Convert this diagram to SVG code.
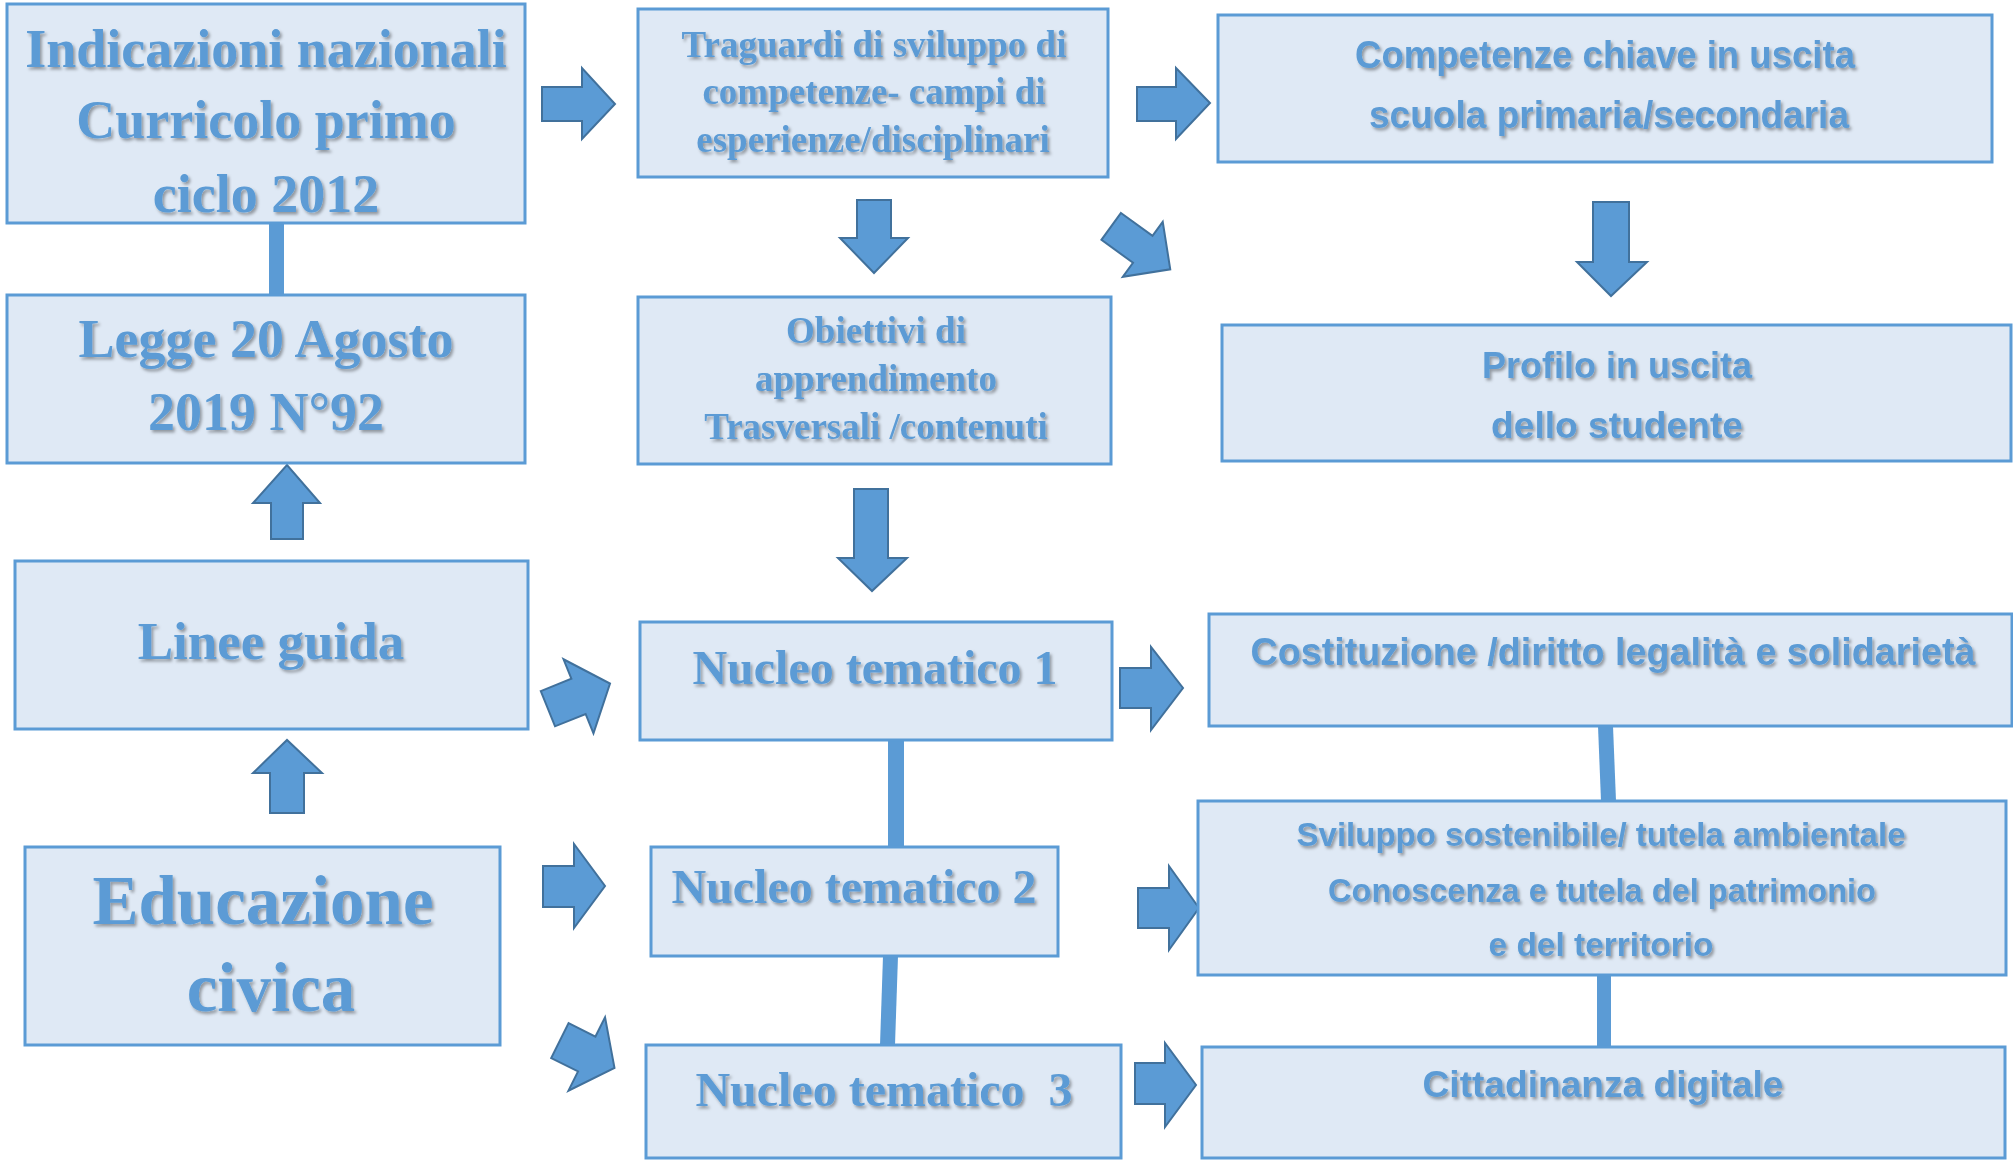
<svg xmlns="http://www.w3.org/2000/svg" width="2013" height="1160" viewBox="0 0 2013 1160">
<defs>
<filter id="ts" x="-5%" y="-30%" width="110%" height="160%">
<feDropShadow dx="2" dy="2.5" stdDeviation="1.4" flood-color="#000" flood-opacity="0.35"/>
</filter>
<polygon id="diag" points="0,-18 0,18 0,18"/>
</defs>
<style>
.box{fill:#dfe9f5;stroke:#5b9bd5;stroke-width:3}
.serif{font-family:"Liberation Serif","Times New Roman",serif;font-weight:bold;fill:#5b9bd5;text-anchor:middle;filter:url(#ts)}
.sans{font-family:"Liberation Sans",Arial,sans-serif;font-weight:bold;fill:#5b9bd5;text-anchor:middle;filter:url(#ts)}
.arr{fill:#5b9bd5;stroke:#41719c;stroke-width:2;stroke-linejoin:miter}
.bar{fill:#5b9bd5}
</style>
<rect width="2013" height="1160" fill="#ffffff"/>

<g id="connectors">
<rect class="bar" x="269" y="223" width="15" height="72"/>
<rect class="bar" x="888" y="740" width="16" height="107"/>
<polygon class="bar" points="883,956 898,956 895,1045 880,1045"/>
<polygon class="bar" points="1598,726 1613,726 1616,801 1601,801"/>
<rect class="bar" x="1597" y="975" width="14" height="72"/>

<polygon class="arr" points="542,87 582,87 582,68 615,104 582,139 582,121 542,121"/>
<polygon class="arr" points="1137,87 1176,87 1176,68 1210,103 1176,139 1176,121 1137,121"/>
<polygon class="arr" points="857,200 891,200 891,238 908,238 874,273 840,238 857,238"/>
<polygon class="arr" transform="translate(1111.2,226.4) rotate(36)" points="0,-16.6 39,-16.6 39,-34 73,0 39,34 39,16.6 0,16.6"/>
<polygon class="arr" points="1593,202 1629,202 1629,262 1647,262 1611,296 1577,262 1593,262"/>
<polygon class="arr" points="854,489 888,489 888,558 907,558 872,591 838,558 854,558"/>
<polygon class="arr" points="271,539 303,539 303,503 320,503 287,465 253,503 271,503"/>
<polygon class="arr" points="270,813 304,813 304,773 322,773 287,740 253,773 270,773"/>
<polygon class="arr" transform="translate(547.9,708.7) rotate(-22)" points="0,-19 33,-19 33,-40 67,0 33,40 33,19 0,19"/>
<polygon class="arr" points="543,866 574,866 574,844 605,886 574,928 574,907 543,907"/>
<polygon class="arr" transform="translate(559.9,1040.6) rotate(26.5)" points="0,-19.5 30,-19.5 30,-41 61,0 30,41 30,19.5 0,19.5"/>
<polygon class="arr" points="1120,668 1151,668 1151,647 1183,688 1151,730 1151,708 1120,708"/>
<polygon class="arr" points="1138,888 1169,888 1169,866 1199,908 1169,950 1169,928 1138,928"/>
<polygon class="arr" points="1135,1063 1165,1063 1165,1043 1196,1085 1165,1127 1165,1104 1135,1104"/>
</g>

<g id="indicazioni">
<rect class="box" x="7" y="4" width="518" height="219"/>
<text class="serif" font-size="54"><tspan x="266" y="67">Indicazioni nazionali</tspan><tspan x="266" y="138">Curricolo primo</tspan><tspan x="266" y="212">ciclo 2012</tspan></text>
</g>

<g id="legge">
<rect class="box" x="7" y="295" width="518" height="168"/>
<text class="serif" font-size="54"><tspan x="266" y="357">Legge 20 Agosto</tspan><tspan x="266" y="430">2019 N°92</tspan></text>
</g>

<g id="linee">
<rect class="box" x="15" y="561" width="513" height="168"/>
<text class="serif" font-size="53" x="271" y="659">Linee guida</text>
</g>

<g id="educazione">
<rect class="box" x="25" y="847" width="475" height="198"/>
<text class="serif" font-size="69"><tspan x="263" y="924">Educazione</tspan><tspan x="271" y="1011">civica</tspan></text>
</g>

<g id="traguardi">
<rect class="box" x="638" y="9" width="470" height="168"/>
<text class="serif" font-size="37"><tspan x="874" y="57">Traguardi di sviluppo di</tspan><tspan x="874" y="104">competenze- campi di</tspan><tspan x="873" y="152">esperienze/disciplinari</tspan></text>
</g>

<g id="obiettivi">
<rect class="box" x="638" y="297" width="473" height="167"/>
<text class="serif" font-size="37"><tspan x="876" y="343">Obiettivi di</tspan><tspan x="876" y="391">apprendimento</tspan><tspan x="876" y="439">Trasversali /contenuti</tspan></text>
</g>

<g id="nucleo1">
<rect class="box" x="640" y="622" width="472" height="118"/>
<text class="serif" font-size="48" x="875" y="684">Nucleo tematico 1</text>
</g>

<g id="nucleo2">
<rect class="box" x="651" y="847" width="407" height="109"/>
<text class="serif" font-size="48" x="854" y="903">Nucleo tematico 2</text>
</g>

<g id="nucleo3">
<rect class="box" x="646" y="1045" width="475" height="113"/>
<text class="serif" font-size="48" x="884" y="1106" xml:space="preserve">Nucleo tematico  3</text>
</g>

<g id="competenze">
<rect class="box" x="1218" y="15" width="774" height="147"/>
<text class="sans" font-size="38" x="1605" y="68" textLength="500" lengthAdjust="spacingAndGlyphs">Competenze chiave in uscita</text>
<text class="sans" font-size="38" x="1609" y="128" textLength="480" lengthAdjust="spacingAndGlyphs">scuola primaria/secondaria</text>
</g>

<g id="profilo">
<rect class="box" x="1222" y="325" width="789" height="136"/>
<text class="sans" font-size="36" x="1617" y="378" textLength="270" lengthAdjust="spacingAndGlyphs">Profilo in uscita</text>
<text class="sans" font-size="36" x="1617" y="438" textLength="252" lengthAdjust="spacingAndGlyphs">dello studente</text>
</g>

<g id="costituzione">
<rect class="box" x="1209" y="614" width="803" height="112"/>
<text class="sans" font-size="38" x="1613" y="665" textLength="725" lengthAdjust="spacingAndGlyphs">Costituzione /diritto legalità e solidarietà</text>
</g>

<g id="sviluppo">
<rect class="box" x="1198" y="801" width="808" height="174"/>
<text class="sans" font-size="33" x="1601" y="846" textLength="609" lengthAdjust="spacingAndGlyphs">Sviluppo sostenibile/ tutela ambientale</text>
<text class="sans" font-size="33" x="1602" y="902" textLength="548" lengthAdjust="spacingAndGlyphs">Conoscenza e tutela del patrimonio</text>
<text class="sans" font-size="33" x="1601" y="956" textLength="225" lengthAdjust="spacingAndGlyphs">e del territorio</text>
</g>

<g id="cittadinanza">
<rect class="box" x="1202" y="1047" width="803" height="111"/>
<text class="sans" font-size="36" x="1603" y="1097" textLength="361" lengthAdjust="spacingAndGlyphs">Cittadinanza digitale</text>
</g>
</svg>
